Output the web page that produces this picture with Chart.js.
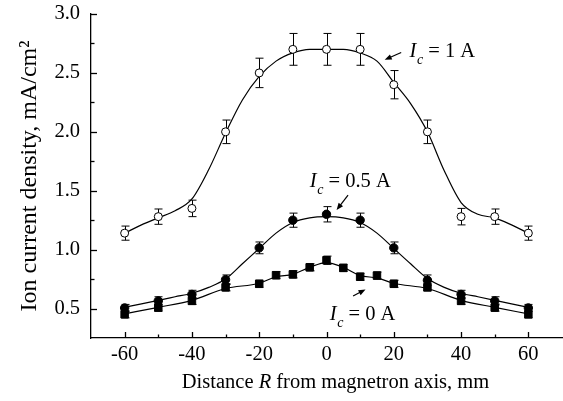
<!DOCTYPE html>
<html><head><meta charset="utf-8">
<script src="https://cdn.jsdelivr.net/npm/chart.js@4.4.0/dist/chart.umd.min.js"></script>
<style>html,body{margin:0;padding:0;background:#fff;}#wrap{width:563px;height:401px;}</style>
</head><body><div id="wrap"><canvas id="c" width="563" height="401"></canvas></div>
<script>
// ---- data ----
const distances   = [-60,-50,-40,-30,-20,-10,0,10,20,30,40,50,60];
const ic1Values   = [1.14,1.28,1.35,2.00,2.50,2.70,2.70,2.70,2.40,2.00,1.28,1.28,1.14];
const ic1Errors   = [0.06,0.065,0.07,0.10,0.125,0.135,0.135,0.135,0.12,0.10,0.07,0.065,0.06];
const ic05Values  = [0.505,0.565,0.62,0.745,1.015,1.25,1.30,1.25,1.015,0.74,0.62,0.565,0.505];
const ic05Errors  = [0.03,0.035,0.035,0.04,0.05,0.06,0.065,0.06,0.05,0.045,0.035,0.035,0.03];
const ic0Distances = [-60,-50,-40,-30,-20,-15,-10,-5,0,5,10,15,20,30,40,50,60];
const ic0Values    = [0.451,0.508,0.565,0.68,0.71,0.783,0.79,0.85,0.91,0.845,0.77,0.78,0.71,0.68,0.565,0.508,0.451];
const ic0Errors    = [0.03,0.03,0.03,0.03,0.03,0.03,0.03,0.03,0.035,0.03,0.03,0.03,0.03,0.03,0.03,0.03,0.03];
// fitted curves
const fitDistances = [-60,-55,-50,-45,-40,-35,-30,-25,-20,-15,-10,-5,0,5,10,15,20,25,30,35,40,45,50,55,60];
const ic1Fit  = [1.14,1.21,1.27,1.33,1.43,1.68,1.99,2.27,2.47,2.60,2.67,2.70,2.70,2.70,2.67,2.60,2.42,2.24,2.00,1.67,1.40,1.30,1.27,1.21,1.14];
const ic05Fit = [0.51,0.54,0.57,0.60,0.63,0.68,0.75,0.88,1.01,1.14,1.23,1.27,1.28,1.27,1.23,1.14,1.01,0.88,0.755,0.68,0.63,0.60,0.57,0.54,0.51];
const ic0FitDistances = [-60,-50,-40,-30,-20,-15,-10,-5,0,5,10,15,20,30,40,50,60];
const ic0Fit = [0.455,0.51,0.57,0.67,0.715,0.77,0.79,0.85,0.89,0.85,0.78,0.76,0.715,0.67,0.57,0.51,0.455];
const xTickLabels = ['-60','-40','-20','0','20','40','60'];
const yTickLabels = ['0.5','1.0','1.5','2.0','2.5','3.0'];
const seriesLabels = ['1 A','0.5 A','0 A'];

const FONT = '"Liberation Serif","Times New Roman",serif';
const FS = 20.5;
const pairs = (xs, ys) => xs.map((x, i) => ({x: x, y: ys[i]}));

const errorBars = {
  id: 'errorBars',
  beforeDatasetsDraw(chart) {
    const {ctx, scales: {x, y}} = chart;
    ctx.save(); ctx.strokeStyle = '#000'; ctx.lineWidth = 1;
    [[distances, ic1Values, ic1Errors], [distances, ic05Values, ic05Errors], [ic0Distances, ic0Values, ic0Errors]]
      .forEach(([xs, vs, es]) => {
        xs.forEach((xv, i) => {
          const px = Math.round(x.getPixelForValue(xv)) + 0.5;
          const t = y.getPixelForValue(vs[i] + es[i]);
          const b = y.getPixelForValue(vs[i] - es[i]);
          ctx.beginPath();
          ctx.moveTo(px, t); ctx.lineTo(px, b);
          ctx.moveTo(px - 4, t); ctx.lineTo(px + 4, t);
          ctx.moveTo(px - 4, b); ctx.lineTo(px + 4, b);
          ctx.stroke();
        });
      });
    ctx.restore();
  }
};

const inwardTicks = {
  id: 'inwardTicks',
  afterDraw(chart) {
    const {ctx, scales: {x, y}, chartArea: a} = chart;
    ctx.save(); ctx.strokeStyle = '#000'; ctx.lineWidth = 1.3;
    x.ticks.forEach(t => {
      if (t.value <= -70 || t.value >= 70) return;
      const len = (t.value % 20 === 0) ? 6 : 3.5;
      const px = Math.round(x.getPixelForValue(t.value)) + 0.5;
      ctx.beginPath(); ctx.moveTo(px, a.bottom); ctx.lineTo(px, a.bottom - len); ctx.stroke();
    });
    y.ticks.forEach(t => {
      if (t.value <= 0.26) return;
      const major = Math.abs(t.value * 2 - Math.round(t.value * 2)) < 1e-6;
      const len = major ? 6 : 3.5;
      const py = Math.round(y.getPixelForValue(t.value)) + 0.5;
      ctx.beginPath(); ctx.moveTo(a.left, py); ctx.lineTo(a.left + len, py); ctx.stroke();
    });
    ctx.restore();
  }
};

// label anchors given in data coordinates
const annotationSpots = [
  {lx: 24.7, ly: 2.637, sx: 22.2, sy: 2.673, ex: 17.3, ey: 2.611},
  {lx: -4.95, ly: 1.534, sx: 6.4, sy: 1.463, ex: 3.0, ey: 1.336},
  {lx: 1.0, ly: 0.40, sx: 7.9, sy: 0.607, ex: 11.6, ey: 0.662}
];

const annotations = {
  id: 'annotations',
  afterDraw(chart) {
    const {ctx, scales: {x, y}, chartArea: a} = chart;
    ctx.save();
    ctx.fillStyle = '#000'; ctx.strokeStyle = '#000'; ctx.textBaseline = 'alphabetic'; ctx.textAlign = 'left';
    annotationSpots.forEach((s, i) => {
      let px = x.getPixelForValue(s.lx), py = y.getPixelForValue(s.ly);
      ctx.font = 'italic ' + FS + 'px ' + FONT;
      ctx.fillText('I', px, py);
      px += ctx.measureText('I').width + 0.5;
      ctx.font = 'italic 14px ' + FONT;
      ctx.fillText('c', px, py + 7);
      px += ctx.measureText('c').width;
      ctx.font = FS + 'px ' + FONT;
      ctx.fillText(' = ' + seriesLabels[i], px, py);
      const x1 = x.getPixelForValue(s.sx), y1 = y.getPixelForValue(s.sy);
      const x2 = x.getPixelForValue(s.ex), y2 = y.getPixelForValue(s.ey);
      const ang = Math.atan2(y2 - y1, x2 - x1);
      ctx.lineWidth = 1.2;
      ctx.beginPath(); ctx.moveTo(x1, y1); ctx.lineTo(x2 - 5 * Math.cos(ang), y2 - 5 * Math.sin(ang)); ctx.stroke();
      ctx.beginPath();
      ctx.moveTo(x2, y2);
      ctx.lineTo(x2 - 7 * Math.cos(ang) + 2.8 * Math.sin(ang), y2 - 7 * Math.sin(ang) - 2.8 * Math.cos(ang));
      ctx.lineTo(x2 - 7 * Math.cos(ang) - 2.8 * Math.sin(ang), y2 - 7 * Math.sin(ang) + 2.8 * Math.cos(ang));
      ctx.closePath(); ctx.fill();
    });
    const parts = [['Distance ', ''], ['R', 'italic '], [' from magnetron axis, mm', '']];
    let total = 0;
    parts.forEach(p => { ctx.font = p[1] + FS + 'px ' + FONT; total += ctx.measureText(p[0]).width; });
    let tx = (a.left + a.right) / 2 + 9 - total / 2;
    const ty = a.bottom + 50;
    parts.forEach(p => { ctx.font = p[1] + FS + 'px ' + FONT; ctx.fillText(p[0], tx, ty); tx += ctx.measureText(p[0]).width; });
    ctx.restore();
  }
};

new Chart(document.getElementById('c'), {
  type: 'scatter',
  data: {
    datasets: [
      {label: 'Ic = 1 A', data: pairs(distances, ic1Values), pointStyle: 'circle', pointRadius: 4, backgroundColor: '#fff', borderColor: '#000', borderWidth: 1, showLine: false},
      {label: 'Ic = 0.5 A', data: pairs(distances, ic05Values), pointStyle: 'circle', pointRadius: 4.2, backgroundColor: '#000', borderColor: '#000', borderWidth: 1, showLine: false},
      {label: 'Ic = 0 A', data: pairs(ic0Distances, ic0Values), pointStyle: 'rect', pointRadius: 5.3, backgroundColor: '#000', borderColor: '#000', borderWidth: 1, showLine: false},
      {label: 'fit 1 A', data: pairs(fitDistances, ic1Fit), showLine: true, pointRadius: 0, borderColor: '#000', borderWidth: 1.2, cubicInterpolationMode: 'monotone', fill: false},
      {label: 'fit 0.5 A', data: pairs(fitDistances, ic05Fit), showLine: true, pointRadius: 0, borderColor: '#000', borderWidth: 1.2, cubicInterpolationMode: 'monotone', fill: false},
      {label: 'fit 0 A', data: pairs(ic0FitDistances, ic0Fit), showLine: true, pointRadius: 0, borderColor: '#000', borderWidth: 1.2, cubicInterpolationMode: 'monotone', fill: false}
    ]
  },
  options: {
    responsive: false, animation: false,
    layout: {autoPadding: false, padding: {left: 0, right: 1, top: 14, bottom: 0}},
    plugins: {legend: {display: false}, tooltip: {enabled: false}},
    scales: {
      x: {
        type: 'linear', min: -70, max: 70,
        grid: {display: false, drawTicks: false},
        border: {display: true, color: '#000', width: 1.3},
        ticks: {stepSize: 10, autoSkip: false, maxRotation: 0, padding: 4, color: '#000', font: {family: FONT, size: FS},
          callback: v => (v % 20 === 0 && Math.abs(v) <= 60) ? xTickLabels[(v + 60) / 20] : ''},
        afterFit: s => { s.height = 63; s.paddingLeft = 0; s.paddingRight = 0; }
      },
      y: {
        type: 'linear', min: 0.25, max: 3.0,
        grid: {display: false, drawTicks: false},
        border: {display: true, color: '#000', width: 1.3},
        ticks: {stepSize: 0.25, autoSkip: false, padding: 11, color: '#000', font: {family: FONT, size: FS},
          callback: v => (Math.abs(v * 2 - Math.round(v * 2)) < 1e-6 && v > 0.3) ? yTickLabels[Math.round(v * 2) - 1] : ''},
        title: {display: true, text: 'Ion current density, mA/cm\u00B2', color: '#000', font: {family: FONT, size: 24}, padding: {top: 15, bottom: 0}},
        afterFit: s => { s.width = 91; s.paddingTop = 0; s.paddingBottom = 0; }
      }
    }
  },
  plugins: [errorBars, inwardTicks, annotations]
});
</script>
</body></html>
